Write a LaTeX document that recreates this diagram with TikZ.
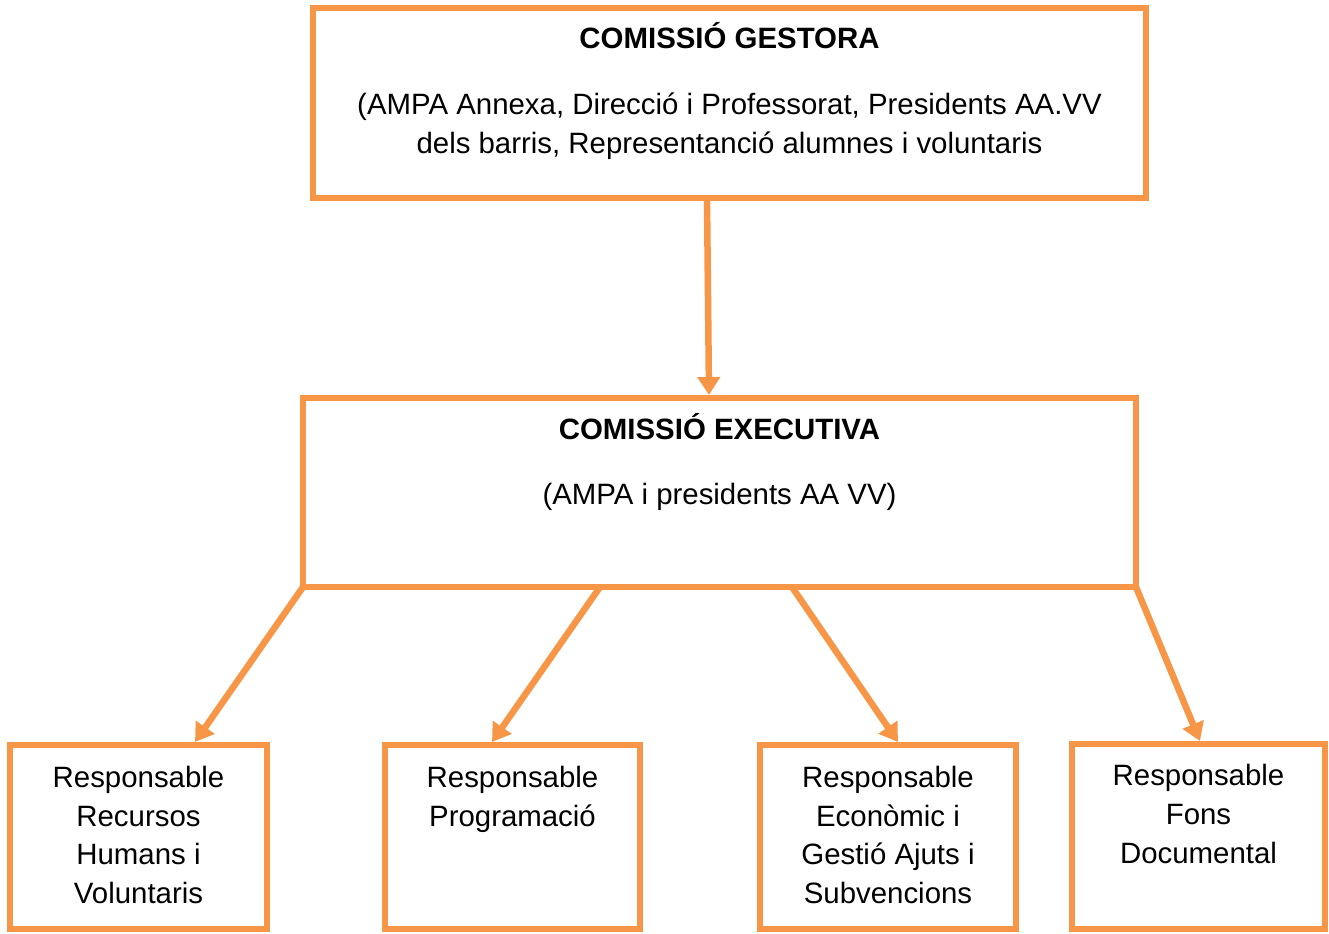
\documentclass[tikz,border=0pt]{standalone}
\usepackage{fontspec}
\setmainfont{Liberation Sans}
\usetikzlibrary{arrows.meta,calc}
\definecolor{orangeline}{HTML}{F79646}

\begin{document}
\begin{tikzpicture}
[x=0.5pt,y=-0.5pt,every node/.style={font=\fontsize{14.7}{19.4}\selectfont,align=center},
box/.style={draw=orangeline,line width=3.25pt,inner sep=0pt,outer sep=0pt},
arr/.style={draw=orangeline,line width=3.25pt,-{Triangle[length=9pt,width=11pt]}}]
\useasboundingbox (0,0) rectangle (1329,933);
\node[box,minimum width=416.5pt,minimum height=95pt] (gestora) at (729.5,103) {};
\node[box,minimum width=416.5pt,minimum height=94.5pt] (executiva) at (719.5,492.5) {};
\node[box,minimum width=128.5pt,minimum height=92pt] (recursos) at (138.5,837) {};
\node[box,minimum width=127.5pt,minimum height=92pt] (programacio) at (512.5,837) {};
\node[box,minimum width=128pt,minimum height=92pt] (economic) at (888,837) {};
\node[box,minimum width=126.5pt,minimum height=92.5pt] (fons) at (1198.5,836.5) {};
% texts
\node (tgestora) at (729.5,36) {\textbf{COMISSIÓ GESTORA}};
\node (dgestora) at (729.5,126.5) {(AMPA Annexa, Direcció i Professorat, Presidents AA.VV\\dels barris, Representanció alumnes i voluntaris};
\node (texecutiva) at (719.5,427) {\textbf{COMISSIÓ EXECUTIVA}};
\node (dexecutiva) at (719.5,497) {(AMPA i presidents AA VV)};
\node (trecursos) at (138.5,835) {Responsable\\Recursos\\Humans i\\Voluntaris};
\node (tprogramacio) at (512.5,799.5) {Responsable\\Programació};
\node (teconomic) at (888,835) {Responsable\\Econòmic i\\Gestió Ajuts i\\Subvencions};
\node (tfons) at (1198.5,814) {Responsable\\Fons\\Documental};
% arrows
\draw[arr] ($(gestora.south)+(-22.5,0)$) -- ($(executiva.north)+(-10.5,-3)$);
\draw[arr] (executiva.south west) -- ($(recursos.north)+(56.5,-3)$);
\draw[arr] ($(executiva.south west)+(297,0)$) -- ($(programacio.north)+(-20.5,-3)$);
\draw[arr] ($(executiva.south west)+(489,0)$) -- ($(economic.north)+(10,-3)$);
\draw[arr] (executiva.south east) -- ($(fons.north)+(1.5,-3)$);
\end{tikzpicture}
\end{document}
